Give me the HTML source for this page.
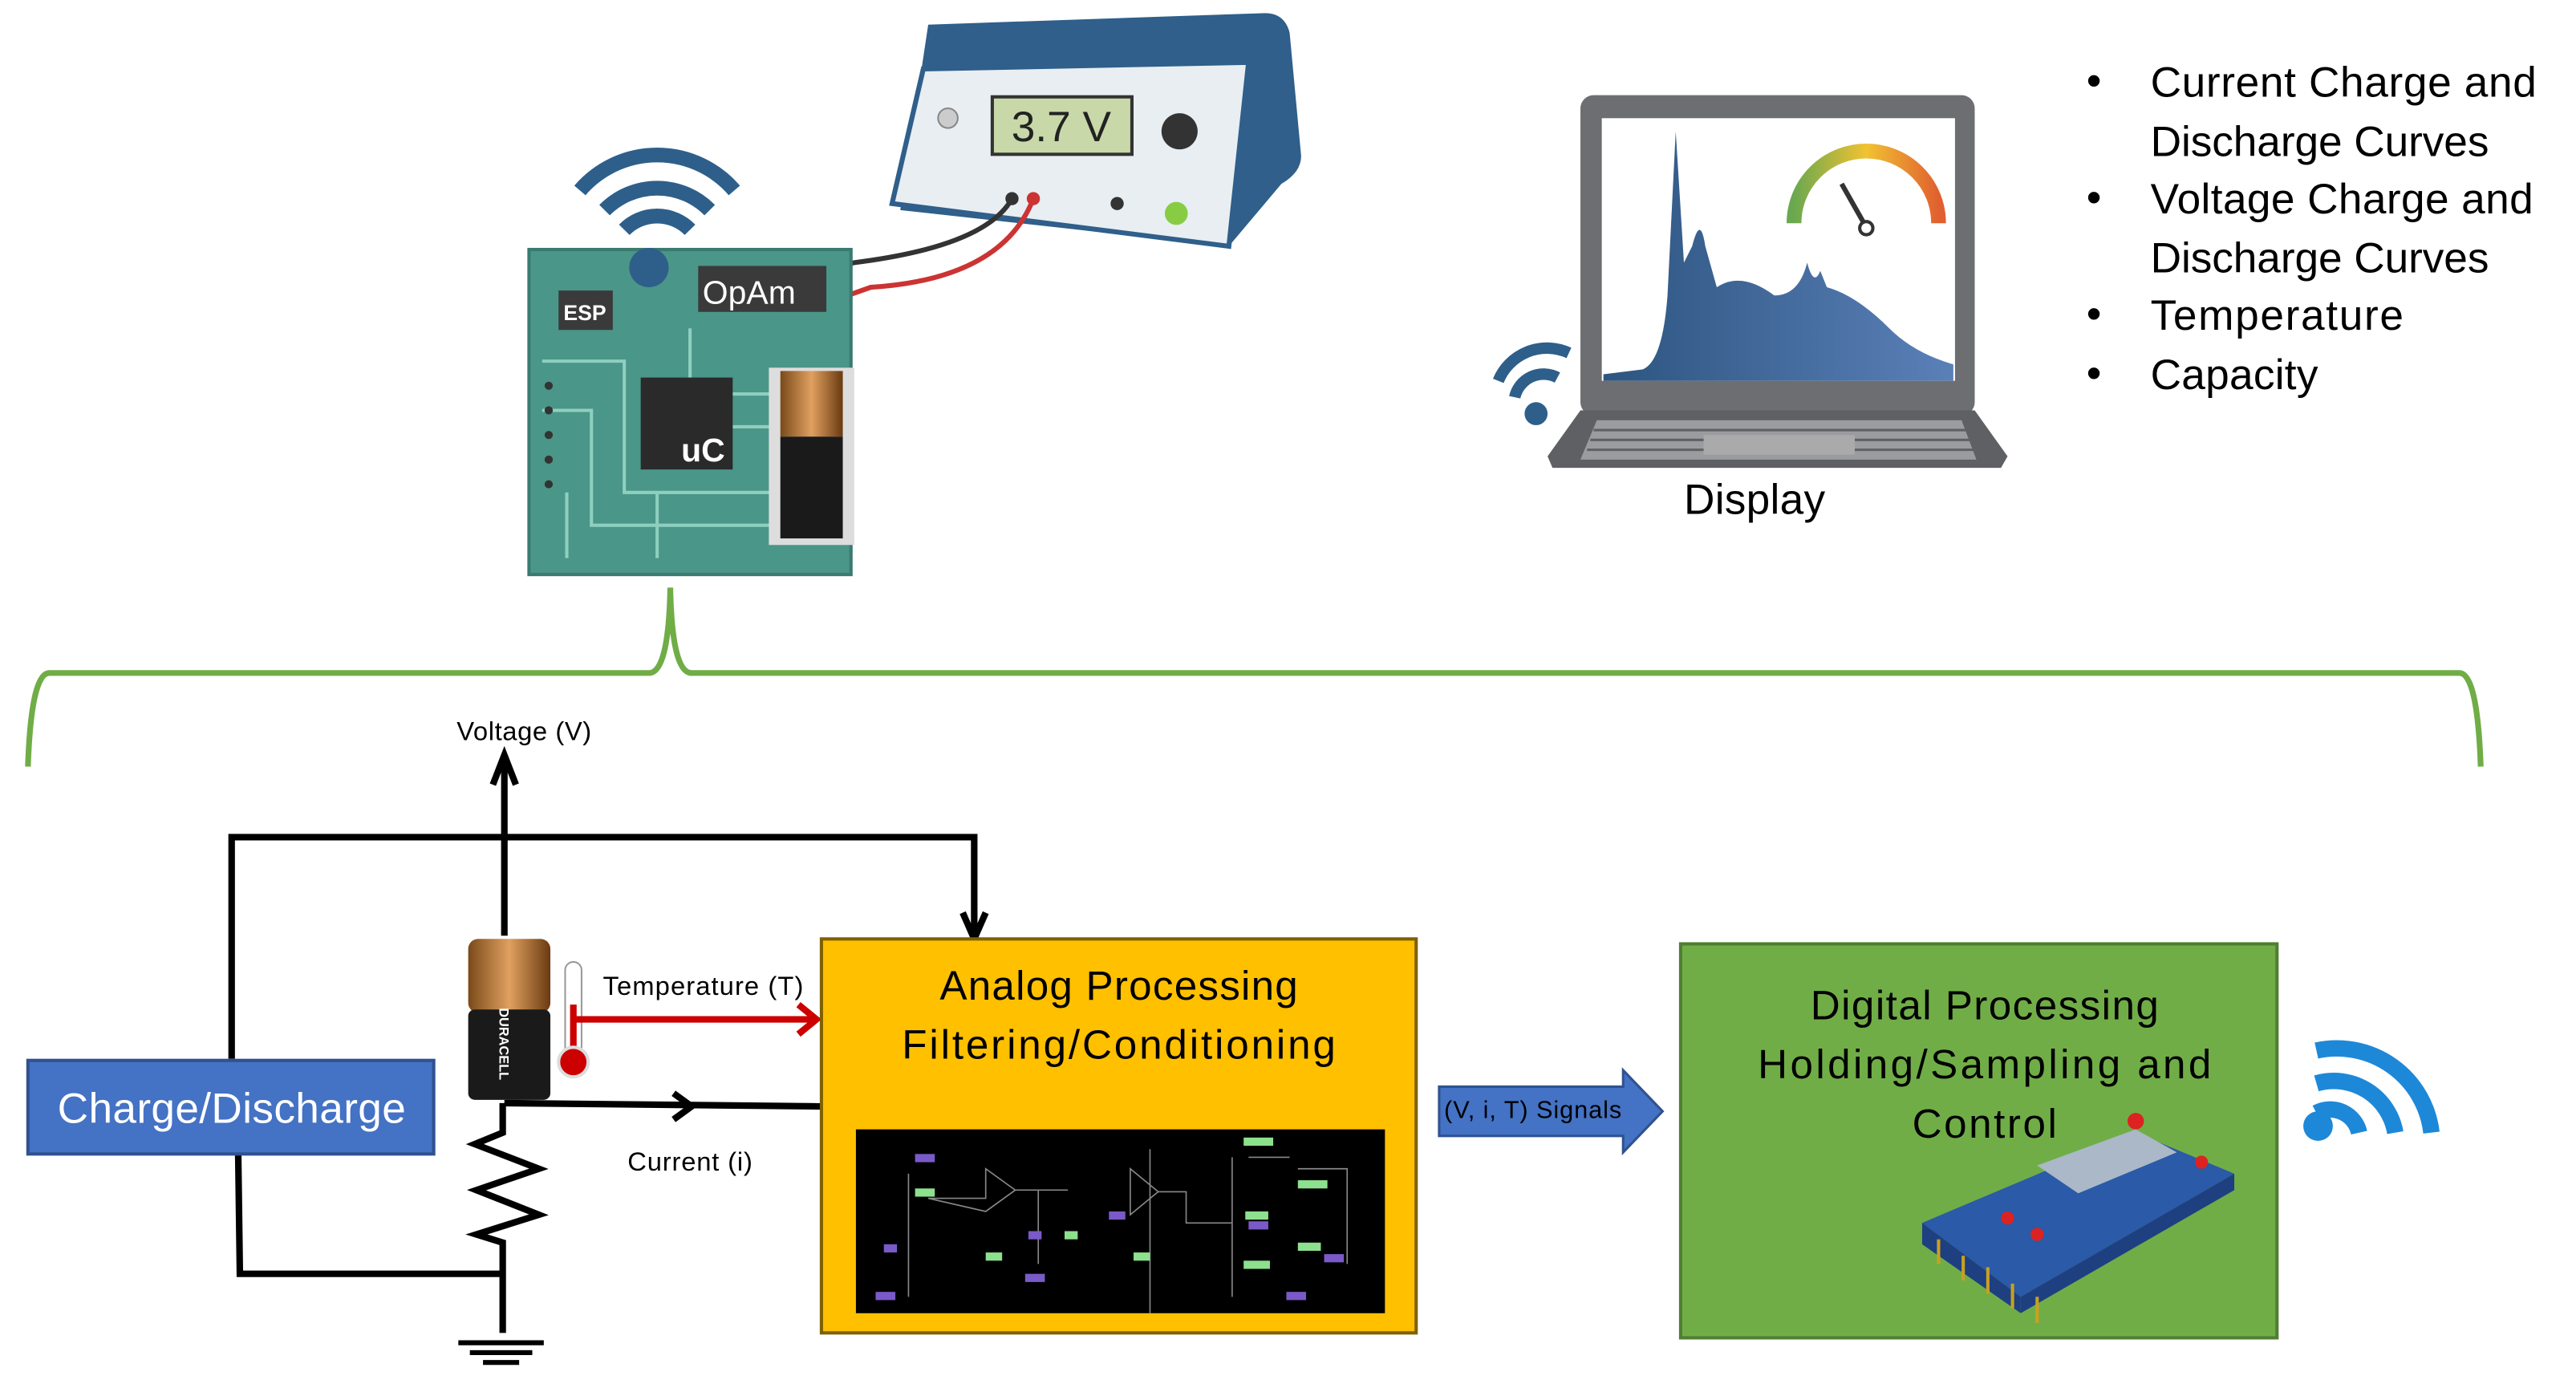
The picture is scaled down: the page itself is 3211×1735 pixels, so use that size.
<!DOCTYPE html>
<html><head><meta charset="utf-8"><style>
html,body{margin:0;padding:0;background:#fff;}
svg{display:block;}
text{font-family:"Liberation Sans",sans-serif;}
</style></head><body>
<svg width="3211" height="1735" viewBox="0 0 1568 848" preserveAspectRatio="none" xmlns="http://www.w3.org/2000/svg">
<defs>
<linearGradient id="bat" x1="0" x2="1"><stop offset="0" stop-color="#7a4a1a"/><stop offset="0.5" stop-color="#e0a060"/><stop offset="1" stop-color="#6a3a10"/></linearGradient>
<linearGradient id="gauge" x1="0" x2="1"><stop offset="0" stop-color="#6aa84f"/><stop offset="0.5" stop-color="#f1c232"/><stop offset="1" stop-color="#e06030"/></linearGradient>
<linearGradient id="chart" x1="0" x2="1"><stop offset="0" stop-color="#2d5580"/><stop offset="1" stop-color="#5a80b8"/></linearGradient>
</defs>
<!-- green brace -->
<path d="M17 467 Q19 410 30 410 L395 410 Q407 410 408 358 Q409 410 421 410 L1497 410 Q1508 410 1510 467" fill="none" stroke="#70ad47" stroke-width="3.5"/>

<!-- Power supply -->
<path d="M565 15 L770 8 Q782 8 785 20 L792 95 Q792 105 780 112 L748 150 L548 128 Z" fill="#2f5f8a"/>
<polygon points="562,42 760,38 748,150 543,124" fill="#e8eef2" stroke="#2f5f8a" stroke-width="3"/>
<rect x="604" y="59" width="85" height="35" fill="#c8d8a8" stroke="#333" stroke-width="2"/>
<text x="646" y="86" font-size="26" text-anchor="middle" fill="#222">3.7 V</text>
<circle cx="577" cy="72" r="6" fill="#ccc" stroke="#888"/>
<circle cx="718" cy="80" r="11" fill="#333"/>
<circle cx="616" cy="121" r="4" fill="#333"/><circle cx="629" cy="121" r="4" fill="#c33"/>
<circle cx="680" cy="124" r="4" fill="#333"/><circle cx="716" cy="130" r="7" fill="#8c4"/>
<path d="M616 121 Q600 150 520 160 L472 170 L472 230" fill="none" stroke="#333" stroke-width="3"/>
<path d="M629 121 Q610 170 530 175 L516 180 L516 230" fill="none" stroke="#c33" stroke-width="3"/>

<!-- PCB -->
<path d="M368 128 A45 45 0 0 1 432 128" fill="none" stroke="#2e5f8a" stroke-width="9"/>
<path d="M353 116 A62 62 0 0 1 447 116" fill="none" stroke="#2e5f8a" stroke-width="9"/>
<path d="M380 140 A28 28 0 0 1 420 140" fill="none" stroke="#2e5f8a" stroke-width="9"/>
<rect x="322" y="152" width="196" height="198" fill="#4a9688" stroke="#3a7a70" stroke-width="2"/>
<circle cx="395" cy="163" r="12" fill="#2e5f8a"/>
<g stroke="#8fcfc0" stroke-width="2" fill="none">
<path d="M330 220 L380 220 L380 300 L470 300"/><path d="M330 250 L360 250 L360 320 L470 320"/><path d="M420 200 L420 230"/><path d="M445 240 L470 240"/><path d="M445 260 L470 260"/><path d="M345 300 L345 340"/><path d="M400 300 L400 340"/>
</g>
<g fill="#333"><circle cx="334" cy="235" r="2.5"/><circle cx="334" cy="250" r="2.5"/><circle cx="334" cy="265" r="2.5"/><circle cx="334" cy="280" r="2.5"/><circle cx="334" cy="295" r="2.5"/></g>
<rect x="340" y="177" width="33" height="24" fill="#3a3a3a"/><text x="356" y="195" font-size="13" fill="#fff" text-anchor="middle" font-weight="bold">ESP</text>
<rect x="425" y="162" width="78" height="28" fill="#3a3a3a"/><text x="456" y="185" font-size="20" fill="#fff" text-anchor="middle">OpAm</text>
<rect x="390" y="230" width="56" height="56" fill="#2a2a2a"/><text x="428" y="281" font-size="20" fill="#fff" text-anchor="middle" font-weight="bold">uC</text>
<rect x="468" y="224" width="52" height="108" fill="#ddd"/>
<rect x="475" y="226" width="38" height="40" fill="url(#bat)"/>
<rect x="475" y="266" width="38" height="62" fill="#1a1a1a"/>

<!-- Laptop -->
<rect x="962" y="58" width="240" height="195" rx="8" fill="#6d6e71"/>
<rect x="975" y="72" width="215" height="160" fill="#fff"/>
<path d="M976 228 L1000 225 Q1012 220 1015 180 L1020 80 L1025 160 L1030 150 Q1035 130 1038 150 L1045 175 Q1060 165 1080 180 Q1095 180 1100 160 Q1104 175 1108 165 L1112 175 Q1130 180 1150 200 Q1165 215 1189 222 L1189 232 L976 232 Z" fill="url(#chart)"/>
<path d="M1092 136 A44 44 0 0 1 1180 136" fill="none" stroke="url(#gauge)" stroke-width="9"/>
<line x1="1121" y1="112" x2="1138" y2="142" stroke="#333" stroke-width="3"/>
<circle cx="1136" cy="139" r="4" fill="#fff" stroke="#333" stroke-width="2"/>
<polygon points="962,250 1202,250 1222,278 1218,285 945,285 942,278" fill="#5e6063"/>
<polygon points="972,256 1194,256 1203,280 962,280" fill="#9a9c9f"/>
<g stroke="#5e6063" stroke-width="1.5"><line x1="970" y1="262" x2="1197" y2="262"/><line x1="968" y1="268" x2="1199" y2="268"/><line x1="966" y1="274" x2="1201" y2="274"/></g>
<rect x="1037" y="265" width="92" height="12" fill="#aaa"/>
<path d="M912 232 A32 32 0 0 1 955 215" fill="none" stroke="#2e5f8a" stroke-width="7"/>
<path d="M922 242 A18 18 0 0 1 948 230" fill="none" stroke="#2e5f8a" stroke-width="7"/>
<circle cx="935" cy="252" r="7" fill="#2e5f8a"/>
<text x="1068" y="313" font-size="26" text-anchor="middle" fill="#000" textLength="86">Display</text>

<!-- Bullets -->
<g font-size="26" fill="#000">
<text x="1270" y="58">•</text><text x="1309" y="59" textLength="235">Current Charge and</text>
<text x="1309" y="95" textLength="206">Discharge Curves</text>
<text x="1270" y="129">•</text><text x="1309" y="130" textLength="233">Voltage Charge and</text>
<text x="1309" y="166" textLength="206">Discharge Curves</text>
<text x="1270" y="200">•</text><text x="1309" y="201" textLength="154">Temperature</text>
<text x="1270" y="236">•</text><text x="1309" y="237" textLength="102">Capacity</text>
</g>

<!-- Circuit wires -->
<g stroke="#000" stroke-width="4" fill="none">
<path d="M141 645 L141 510 L593 510 L593 568"/>
<path d="M307 570 L307 462"/>
<path d="M307 672 L500 674"/>
<path d="M145 703 L146 776 L307 776"/>
<path d="M306 672 L306 690 L289 697 L328 712 L290 725 L328 740 L290 752 L306 757 L306 812"/>
</g>
<path d="M586 556 L593 572 L600 556" fill="none" stroke="#000" stroke-width="4"/>
<path d="M300 478 L307 460 L314 478" fill="none" stroke="#000" stroke-width="4"/>
<path d="M410 666 L421 674 L410 682" fill="none" stroke="#000" stroke-width="4"/>
<g stroke="#000" stroke-width="3"><line x1="279" y1="818" x2="331" y2="818"/><line x1="286" y1="824" x2="324" y2="824"/><line x1="294" y1="830" x2="316" y2="830"/></g>
<text x="319" y="451" font-size="16" text-anchor="middle" textLength="82">Voltage (V)</text>
<text x="428" y="606" font-size="16" text-anchor="middle" textLength="122">Temperature (T)</text>
<text x="420" y="713" font-size="16" text-anchor="middle" textLength="76">Current (i)</text>

<!-- battery + thermometer -->
<rect x="285" y="572" width="50" height="45" rx="6" fill="url(#bat)"/>
<rect x="285" y="615" width="50" height="55" rx="4" fill="#1a1a1a"/>
<text x="0" y="0" font-size="8" fill="#fff" font-weight="bold" transform="translate(304,614) rotate(90)">DURACELL</text>
<rect x="344" y="586" width="10" height="58" rx="5" fill="#fff" stroke="#999"/>
<line x1="349" y1="612" x2="349" y2="645" stroke="#c00" stroke-width="4"/>
<circle cx="349" cy="647" r="9" fill="#c00" stroke="#ddd" stroke-width="2"/>
<line x1="350" y1="621" x2="494" y2="621" stroke="#c00" stroke-width="4"/>
<path d="M486 612 L497 621 L486 630" fill="none" stroke="#c00" stroke-width="4"/>

<!-- Charge/Discharge -->
<rect x="17" y="646" width="247" height="57" fill="#4472c4" stroke="#2f528f" stroke-width="2"/>
<text x="141" y="684" font-size="26" fill="#fff" text-anchor="middle" textLength="212">Charge/Discharge</text>

<!-- Analog box -->
<rect x="500" y="572" width="362" height="240" fill="#ffc000" stroke="#7f6000" stroke-width="2"/>
<text x="681" y="609" font-size="25" text-anchor="middle" textLength="218">Analog Processing</text>
<text x="681" y="645" font-size="25" text-anchor="middle" textLength="264">Filtering/Conditioning</text>
<rect x="521" y="688" width="322" height="112" fill="#000"/>
<g stroke="#888" stroke-width="0.8" fill="none">
<path d="M553 715 L553 790"/><path d="M565 730 L600 730 L600 712 L618 725 L600 738 Z"/><path d="M618 725 L650 725"/><path d="M632 725 L632 770"/><path d="M688 712 L688 740 L705 726 Z"/><path d="M705 726 L722 726 L722 745 L750 745"/><path d="M750 705 L750 790"/><path d="M760 705 L785 705"/><path d="M790 712 L820 712 L820 770"/><path d="M700 700 L700 800"/>
</g>
<g fill="#7a5ac8"><rect x="557" y="703" width="12" height="5"/><rect x="538" y="758" width="8" height="5"/><rect x="626" y="750" width="8" height="5"/><rect x="624" y="776" width="12" height="5"/><rect x="675" y="738" width="10" height="5"/><rect x="760" y="744" width="12" height="5"/><rect x="806" y="764" width="12" height="5"/><rect x="533" y="787" width="12" height="5"/><rect x="783" y="787" width="12" height="5"/></g>
<g fill="#8de08d"><rect x="557" y="724" width="12" height="5"/><rect x="757" y="693" width="18" height="5"/><rect x="790" y="719" width="18" height="5"/><rect x="758" y="738" width="14" height="5"/><rect x="600" y="763" width="10" height="5"/><rect x="648" y="750" width="8" height="5"/><rect x="690" y="763" width="10" height="5"/><rect x="757" y="768" width="16" height="5"/><rect x="790" y="757" width="14" height="5"/></g>

<!-- Signals arrow -->
<polygon points="876,662 988,662 988,652 1012,677 988,702 988,692 876,692" fill="#4472c4" stroke="#2f528f" stroke-width="1.5"/>
<text x="933" y="681" font-size="15" fill="#000" text-anchor="middle" textLength="108">(V, i, T) Signals</text>

<!-- Digital box -->
<rect x="1023" y="575" width="363" height="240" fill="#70ad47" stroke="#507e32" stroke-width="2"/>
<text x="1208" y="621" font-size="25" text-anchor="middle" textLength="212">Digital Processing</text>
<text x="1208" y="657" font-size="25" text-anchor="middle" textLength="276">Holding/Sampling  and</text>
<text x="1208" y="693" font-size="25" text-anchor="middle" textLength="88">Control</text>
<polygon points="1170,745 1300,690 1360,715 1230,790" fill="#2a5aa8"/>
<polygon points="1170,745 1230,790 1230,800 1170,758" fill="#1e4080"/>
<polygon points="1230,790 1360,715 1360,725 1230,800" fill="#1e4080"/>
<polygon points="1240,710 1300,688 1325,702 1265,727" fill="#aab8c8"/>
<circle cx="1300" cy="683" r="5" fill="#d22"/><circle cx="1340" cy="708" r="4" fill="#d22"/><circle cx="1240" cy="752" r="4" fill="#d22"/><circle cx="1222" cy="742" r="4" fill="#d22"/>
<g stroke="#c9a020" stroke-width="2"><line x1="1180" y1="755" x2="1180" y2="770"/><line x1="1195" y1="765" x2="1195" y2="780"/><line x1="1210" y1="772" x2="1210" y2="788"/><line x1="1225" y1="782" x2="1225" y2="797"/><line x1="1240" y1="790" x2="1240" y2="806"/></g>

<!-- Wifi right -->
<path d="M1410 640 A58 58 0 0 1 1480 690" fill="none" stroke="#1e88d8" stroke-width="10"/>
<path d="M1410 660 A38 38 0 0 1 1458 690" fill="none" stroke="#1e88d8" stroke-width="10"/>
<path d="M1410 678 A18 18 0 0 1 1436 690" fill="none" stroke="#1e88d8" stroke-width="10"/>
<circle cx="1411" cy="686" r="9" fill="#1e88d8"/>
</svg>
</body></html>
